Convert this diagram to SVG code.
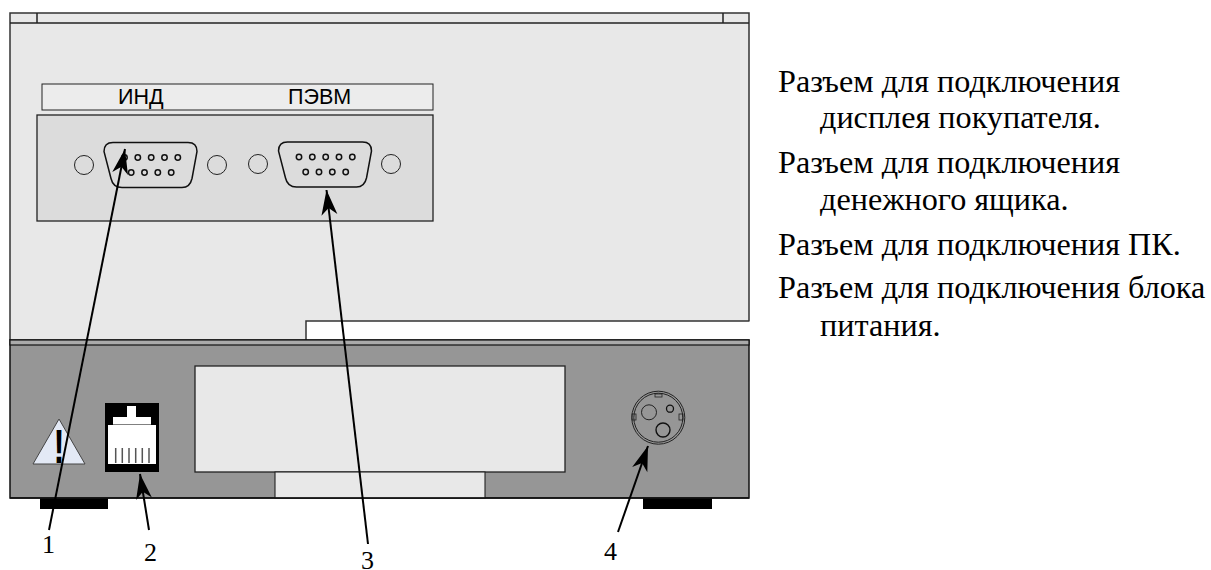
<svg xmlns="http://www.w3.org/2000/svg" width="1211" height="570" viewBox="0 0 1211 570">
<style>
.pin{fill:none;stroke:#111;stroke-width:1.5}
.hole{fill:none;stroke:#222;stroke-width:1}
.cap{font-family:"Liberation Serif","Times New Roman",serif;font-size:32.2px;fill:#000}
.num{font-family:"Liberation Serif","Times New Roman",serif;font-size:26px;fill:#000}
.sans{font-family:"Liberation Sans",Arial,sans-serif;font-size:21.5px;fill:#000}
.arrow{fill:none;stroke:#000;stroke-width:2;marker-end:url(#ah)}
.foot{fill:#000}
</style>
<defs>
<marker id="ah" markerUnits="userSpaceOnUse" markerWidth="30" markerHeight="20" viewBox="0 0 30 20" refX="27" refY="10" orient="auto">
<path d="M27 10 L2 2 L9 10 L2 18 Z" fill="#000"/>
</marker>
<g id="dsub">
<path d="M9 0 H84 Q93 0 93 9 L88 36 Q86 45 78 45 H18 Q9 45 7 36 L0 9 Q0 0 9 0 Z" fill="none" stroke="#111" stroke-width="1.5"/>
<circle class="pin" cx="20.5" cy="15" r="2.7"/><circle class="pin" cx="33.8" cy="15" r="2.7"/><circle class="pin" cx="47.2" cy="15" r="2.7"/><circle class="pin" cx="60.5" cy="15" r="2.7"/><circle class="pin" cx="73.8" cy="15" r="2.7"/>
<circle class="pin" cx="27.2" cy="30" r="2.7"/><circle class="pin" cx="40.5" cy="30" r="2.7"/><circle class="pin" cx="53.8" cy="30" r="2.7"/><circle class="pin" cx="67.2" cy="30" r="2.7"/>
</g>
</defs>
<rect width="1211" height="570" fill="#fff"/>
<g id="upper-case">
<path d="M10 340 V13 H749 V321 H306 V340 Z" fill="#e8e8e8"/>
<path d="M10 340 V13 H749 V321.5 M749 321 H723" fill="none" stroke="#333" stroke-width="1.5"/>
<path d="M306 340 V321 H723" fill="none" stroke="#333" stroke-width="1.5"/>
<path d="M10 23 H749 M37 13 V23 M723 13 V23" fill="none" stroke="#222" stroke-width="1.5"/>
</g>
<g id="label-strip">
<rect x="42" y="84" width="391" height="26" fill="#ececec" stroke="#222" stroke-width="1"/>
<text class="sans" x="118" y="104">ИНД</text>
<text class="sans" x="288" y="104">ПЭВМ</text>
</g>
<g id="panel">
<rect x="37" y="115" width="396" height="106" fill="#dcdcdc" stroke="#222" stroke-width="1.3"/>
<circle class="hole" cx="84" cy="165" r="9.5"/>
<circle class="hole" cx="217" cy="165" r="9.5"/>
<circle class="hole" cx="258" cy="164" r="9.5"/>
<circle class="hole" cx="391" cy="164" r="9.5"/>
</g>
<g id="conn-ind"><use href="#dsub" x="104" y="142.5"/></g>
<g id="conn-pevm"><use href="#dsub" x="278.5" y="142"/></g>
<g id="base">
<rect x="40" y="497" width="68" height="12" class="foot"/>
<rect x="643" y="497" width="69" height="12" class="foot"/>
<rect x="10" y="340" width="739" height="158" fill="#969696" stroke="#111" stroke-width="1.5"/>
<rect x="10" y="340" width="739" height="5" fill="#aaa" stroke="#111" stroke-width="1.2"/>
</g>
<g id="slot">
<rect x="195" y="366" width="370" height="106" fill="#e8e8e8" stroke="#222" stroke-width="1.3"/>
<rect x="275" y="472" width="210" height="26" fill="#e8e8e8" stroke="#222" stroke-width="1.1"/>
<path d="M10 498 H749" stroke="#111" stroke-width="1.5"/>
</g>
<g id="warning">
<path d="M59 419 L85 464 H33 Z" fill="#e3e9f5" stroke="#444" stroke-width="1"/>
<text transform="translate(59 463) scale(.72 1.03)" text-anchor="middle" style="font-family:'Liberation Sans',Arial,sans-serif;font-weight:bold;font-size:46px;fill:#000">!</text>
</g>
<g id="rj-socket">
<rect x="105" y="403" width="54" height="69" fill="#000"/>
<rect x="108" y="425" width="48" height="39" fill="#fff"/>
<rect x="113" y="417" width="38" height="7.5" fill="#fff"/>
<rect x="127" y="406" width="9" height="11" fill="#fff"/>
<path d="M115.7 448 V463 M122.3 448 V463 M129 448 V463 M135.7 448 V463 M142.3 448 V463 M149 448 V463" stroke="#555" stroke-width="1.5"/>
</g>
<g id="power-socket">
<circle cx="658.3" cy="417.7" r="26.5" fill="none" stroke="#222" stroke-width="1"/>
<circle cx="658.3" cy="417.7" r="24.5" fill="none" stroke="#222" stroke-width="1"/>
<rect x="655" y="394" width="7" height="3" fill="none" stroke="#222" stroke-width=".8"/>
<rect x="632" y="414" width="4" height="6" fill="none" stroke="#222" stroke-width=".8"/>
<rect x="679" y="414" width="4" height="6" fill="none" stroke="#222" stroke-width=".8"/>
<circle cx="649" cy="412.3" r="7.5" fill="none" stroke="#222" stroke-width="1"/>
<circle cx="670" cy="408.7" r="3.5" fill="none" stroke="#111" stroke-width="1.3"/>
<circle cx="663" cy="430" r="7" fill="none" stroke="#111" stroke-width="1.4"/>
</g>
<g id="connectors">
<line class="arrow" x1="49" y1="530" x2="125" y2="149"/>
<line class="arrow" x1="149" y1="530" x2="140" y2="474"/>
<line class="arrow" x1="368" y1="544" x2="326.5" y2="190"/>
<line class="arrow" x1="618" y1="532" x2="648" y2="446"/>
</g>
<g id="callouts">
<text class="num" x="42" y="553">1</text>
<text class="num" x="144" y="561">2</text>
<text class="num" x="361" y="569">3</text>
<text class="num" x="604" y="560">4</text>
</g>
<g id="legend">
<text class="cap" x="778" y="92">Разъем для подключения</text>
<text class="cap" x="820" y="128">дисплея покупателя.</text>
<text class="cap" x="778" y="173">Разъем для подключения</text>
<text class="cap" x="820" y="210">денежного ящика.</text>
<text class="cap" x="778" y="255">Разъем для подключения ПК.</text>
<text class="cap" x="778" y="298">Разъем для подключения блока</text>
<text class="cap" x="820" y="336">питания.</text>
</g>
</svg>
